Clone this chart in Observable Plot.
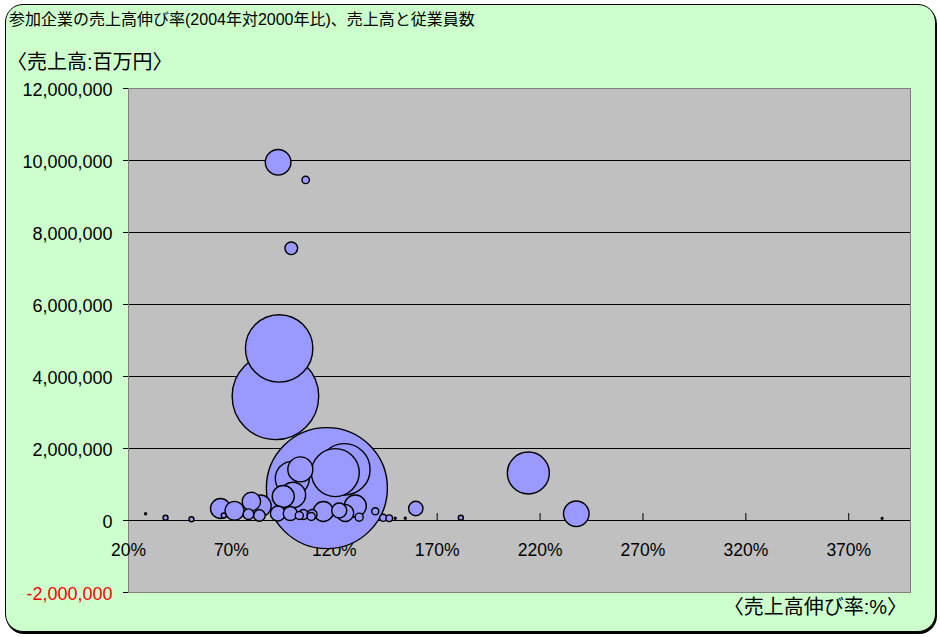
<!DOCTYPE html>
<html>
<head>
<meta charset="utf-8">
<script src="https://cdn.jsdelivr.net/npm/d3@7"></script>
<script src="https://cdn.jsdelivr.net/npm/@observablehq/plot@0.6"></script>
<style>
  body { margin: 0; background: #fff; width: 940px; height: 637px; position: relative; overflow: hidden;
         font-family: "Liberation Sans", "Noto Sans CJK JP", sans-serif; color: #000; }
  #frame { position: absolute; left: 5px; top: 4px; width: 931px; height: 628px; box-sizing: border-box;
           background: #CCFFCC; border: 1.5px solid #000; border-radius: 18px; box-shadow: 1px 2px 0 #000; }
  #title { position: absolute; left: 9px; top: 12px; font-size: 16px; line-height: 16px; white-space: nowrap; }
  #unitY { position: absolute; left: 7px; top: 52px; font-size: 20px; line-height: 20px; white-space: nowrap; }
  #unitX { position: absolute; right: 33px; top: 597px; font-size: 20px; line-height: 20px; white-space: nowrap; }
  #chart { position: absolute; left: 0; top: 0; }
</style>
</head>
<body>
<div id="frame"></div>
<div id="title">参加企業の売上高伸び率(2004年対2000年比)、売上高と従業員数</div>
<div id="unitY">〈売上高:百万円〉</div>
<div id="chart"></div>
<div id="unitX">〈売上高伸び率:%〉</div>
<script>
// 売上高伸び率 (%), 売上高 (百万円), 従業員数 (人) — one entry per company
const growthRate = [
  116.4, 91.4, 93.2, 92.7, 106.1, 99.1, 214.3, 237.6, 386.2, 124.9,
  120.5, 103.5, 99.6, 99.9, 95.2, 64.7, 71.5, 79.7, 84.1, 78.3,
  83.6, 92.6, 98.6, 103.0, 105.0, 109.2, 114.7, 108.8, 122.4, 125.3,
  130.2, 132.1, 139.9, 143.8, 146.7, 149.6, 154.5, 159.6, 181.5, 28.3,
  38.0, 50.6, 66.3
];
const sales = [
  900000, 3450000, 4780000, 9950000, 9460000, 7560000, 1320000, 186000, 60000, 1420000,
  1330000, 1420000, 1170000, 708000, 667000, 333000, 269000, 528000, 408000, 175000,
  139000, 194000, 194000, 139000, 167000, 167000, 250000, 111000, 278000, 208000,
  403000, 92000, 258000, 75000, 64000, 64000, 64000, 333000, 75000, 186000,
  75000, 36000, 139000
];
const employees = [
  293000, 150000, 91000, 13100, 1100, 3200, 35300, 13100, 70, 53000,
  46000, 12500, 23100, 12900, 9700, 8000, 7200, 6800, 9300, 2250,
  2700, 4500, 3900, 1300, 2000, 2000, 8000, 1300, 4500, 5800,
  9700, 1300, 1000, 1000, 870, 80, 80, 4150, 500, 80,
  500, 500, 500
];

// axis ticks
const xTicks = [20, 70, 120, 170, 220, 270, 320, 370];
const yTicks = [-2000000, 0, 2000000, 4000000, 6000000, 8000000, 10000000, 12000000];
const gridLines = [2000000, 4000000, 6000000, 8000000, 10000000];
const xCross = 0; // the horizontal axis crosses at 売上高 = 0

// larger bubbles first so the small ones stay visible on top
const bubbles = growthRate
  .map((g, i) => ({growth: g, sales: sales[i], staff: employees[i]}))
  .sort((a, b) => b.staff - a.staff);

// thousands separators with a plain hyphen-minus
const fmt = d3.formatLocale({decimal: ".", thousands: ",", grouping: [3], currency: ["", ""], minus: "-"}).format(",");

const chart = Plot.plot({
  width: 940,
  height: 637,
  marginLeft: 128,
  marginRight: 30,
  marginTop: 88,
  marginBottom: 45,
  style: {background: "transparent", fontFamily: "'Liberation Sans', 'Noto Sans CJK JP', sans-serif", color: "#000"},
  x: {domain: [20, 400], axis: null},
  y: {domain: [-2000000, 12000000]},
  r: {type: "sqrt", domain: [0, 293000], range: [0, 60.5]},
  marks: [
    Plot.frame({fill: "#C0C0C0", stroke: null}),
    Plot.ruleY(gridLines, {stroke: "#000", strokeWidth: 1}),
    Plot.frame({stroke: "#808080", strokeWidth: 1}),
    Plot.ruleY([xCross], {stroke: "#000", strokeWidth: 1}),
    Plot.ruleX(xTicks.slice(1), {x: d => d, y1: xCross, y2: xCross, insetTop: -7, stroke: "#000", strokeWidth: 1}),
    Plot.axisY({ticks: yTicks, tickSize: 5, tickFormat: () => "", label: null, stroke: "#000"}),
    Plot.text(yTicks, {
      y: d => d, frameAnchor: "left", dx: -16, dy: 2, textAnchor: "end",
      text: d => fmt(d), fill: d => d < 0 ? "#FF0000" : "#000", fontSize: 18
    }),
    Plot.text(xTicks, {x: d => d, y: xCross, dy: 30, text: d => d + "%", fontSize: 17.5, fill: "#000"}),
    Plot.dot(bubbles, {
      x: "growth", y: "sales", r: "staff",
      fill: "#9999FF", stroke: "#000", strokeWidth: 1.4
    })
  ]
});
document.getElementById("chart").append(chart);
</script>
</body>
</html>
